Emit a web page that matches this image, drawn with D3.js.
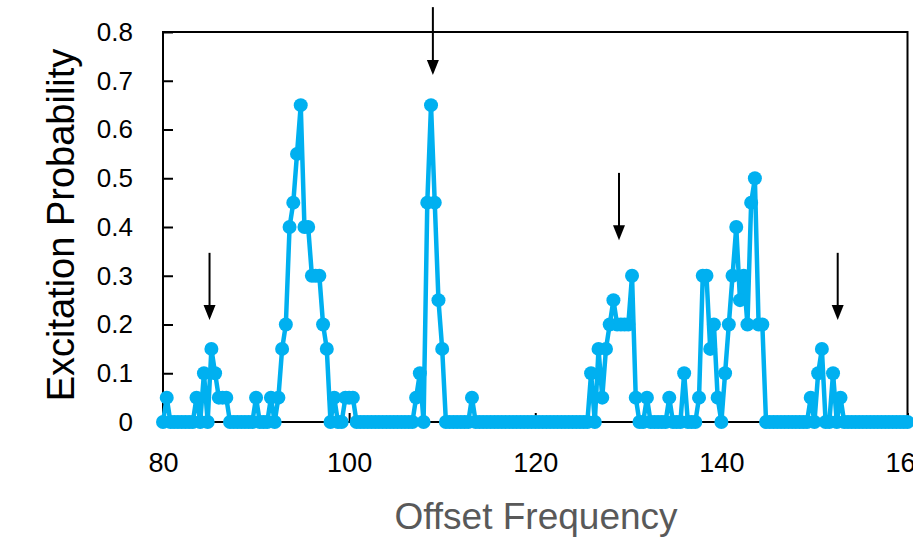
<!DOCTYPE html>
<html>
<head>
<meta charset="utf-8">
<script src="https://cdn.jsdelivr.net/npm/d3@7"></script>
<style>
  body { margin: 0; background: #fff; }
  svg { display: block; font-family: "Liberation Sans", Arial, sans-serif; }
</style>
</head>
<body>
<div id="chart"></div>
<script>
// offset frequency of each measured point
var offsets = [
    80, 80.4, 80.8, 81.2, 81.6, 82, 82.4, 82.8, 83.2, 83.6,
    84, 84.4, 84.8, 85.2, 85.6, 86, 86.4, 86.8, 87.2, 87.6,
    88, 88.4, 88.8, 89.2, 89.6, 90, 90.4, 90.8, 91.2, 91.6,
    92, 92.4, 92.8, 93.2, 93.6, 94, 94.4, 94.8, 95.2, 95.6,
    96, 96.4, 96.8, 97.2, 97.6, 98, 98.4, 98.8, 99.2, 99.6,
    100, 100.4, 100.8, 101.2, 101.6, 102, 102.4, 102.8, 103.2, 103.6,
    104, 104.4, 104.8, 105.2, 105.6, 106, 106.4, 106.8, 107.2, 107.6,
    108, 108.4, 108.8, 109.2, 109.6, 110, 110.4, 110.8, 111.2, 111.6,
    112, 112.4, 112.8, 113.2, 113.6, 114, 114.4, 114.8, 115.2, 115.6,
    116, 116.4, 116.8, 117.2, 117.6, 118, 118.4, 118.8, 119.2, 119.6,
    120, 120.4, 120.8, 121.2, 121.6, 122, 122.4, 122.8, 123.2, 123.6,
    124, 124.4, 124.8, 125.2, 125.6, 126, 126.4, 126.8, 127.2, 127.6,
    128, 128.4, 128.8, 129.2, 129.6, 130, 130.4, 130.8, 131.2, 131.6,
    132, 132.4, 132.8, 133.2, 133.6, 134, 134.4, 134.8, 135.2, 135.6,
    136, 136.4, 136.8, 137.2, 137.6, 138, 138.4, 138.8, 139.2, 139.6,
    140, 140.4, 140.8, 141.2, 141.6, 142, 142.4, 142.8, 143.2, 143.6,
    144, 144.4, 144.8, 145.2, 145.6, 146, 146.4, 146.8, 147.2, 147.6,
    148, 148.4, 148.8, 149.2, 149.6, 150, 150.4, 150.8, 151.2, 151.6,
    152, 152.4, 152.8, 153.2, 153.6, 154, 154.4, 154.8, 155.2, 155.6,
    156, 156.4, 156.8, 157.2, 157.6, 158, 158.4, 158.8, 159.2, 159.6,
    160
];

// excitation probability
var probs = [
    0, 0.05, 0, 0, 0, 0, 0, 0, 0, 0.05,
    0, 0.1, 0, 0.15, 0.1, 0.05, 0.05, 0.05, 0, 0,
    0, 0, 0, 0, 0, 0.05, 0, 0, 0, 0.05,
    0, 0.05, 0.15, 0.2, 0.4, 0.45, 0.55, 0.65, 0.4, 0.4,
    0.3, 0.3, 0.3, 0.2, 0.15, 0, 0.05, 0, 0, 0.05,
    0.05, 0.05, 0, 0, 0, 0, 0, 0, 0, 0,
    0, 0, 0, 0, 0, 0, 0, 0, 0.05, 0.1,
    0, 0.45, 0.65, 0.45, 0.25, 0.15, 0, 0, 0, 0,
    0, 0, 0, 0.05, 0, 0, 0, 0, 0, 0,
    0, 0, 0, 0, 0, 0, 0, 0, 0, 0,
    0, 0, 0, 0, 0, 0, 0, 0, 0, 0,
    0, 0, 0, 0, 0, 0.1, 0, 0.15, 0.05, 0.15,
    0.2, 0.25, 0.2, 0.2, 0.2, 0.2, 0.3, 0.05, 0, 0,
    0.05, 0, 0, 0, 0, 0, 0.05, 0, 0, 0,
    0.1, 0, 0, 0, 0.05, 0.3, 0.3, 0.15, 0.2, 0.05,
    0, 0.1, 0.2, 0.3, 0.4, 0.25, 0.3, 0.2, 0.45, 0.5,
    0.2, 0.2, 0, 0, 0, 0, 0, 0, 0, 0,
    0, 0, 0, 0, 0.05, 0, 0.1, 0.15, 0, 0,
    0.1, 0, 0.05, 0, 0, 0, 0, 0, 0, 0,
    0, 0, 0, 0, 0, 0, 0, 0, 0, 0,
    0
];

var xTicks = [80, 100, 120, 140, 160];
var yTicks = [0, 0.1, 0.2, 0.3, 0.4, 0.5, 0.6, 0.7, 0.8];

// annotation arrows (data units)
var arrowX = [85, 109, 129, 152.5];
var arrowFrom = [0.347, 0.851, 0.511, 0.347];
var arrowTo = [0.209, 0.712, 0.373, 0.209];

var blue = "#00B0F0";

var svg = d3.select("#chart").append("svg")
    .attr("width", 913)
    .attr("height", 549);

var x = d3.scaleLinear().domain([80, 160]).range([163, 907.5]);
var y = d3.scaleLinear().domain([0, 0.8]).range([422, 32]);

// y axis with inward ticks
var yAxis = svg.append("g")
    .attr("transform", "translate(" + x(80) + ",0)")
    .call(d3.axisLeft(y).tickValues(yTicks).tickSize(-10).tickPadding(30)
        .tickFormat(function (d) { return d === 0 ? "0" : d.toFixed(1); }));
yAxis.select(".domain").remove();
yAxis.selectAll("line").attr("stroke", "#000").attr("stroke-width", 2);
yAxis.selectAll("text")
    .attr("font-size", 26)
    .attr("font-family", "Liberation Sans, Arial, sans-serif")
    .attr("fill", "#000");

// x axis with inward ticks
var xAxis = svg.append("g")
    .attr("transform", "translate(0," + y(0) + ")")
    .call(d3.axisBottom(x).tickValues(xTicks).tickSize(-9).tickPadding(31)
        .tickFormat(d3.format("d")));
xAxis.select(".domain").remove();
xAxis.selectAll("line").attr("stroke", "#000").attr("stroke-width", 2);
xAxis.selectAll("text")
    .attr("font-size", 27)
    .attr("font-family", "Liberation Sans, Arial, sans-serif")
    .attr("fill", "#000");

// plot frame
svg.append("rect")
    .attr("x", x(80))
    .attr("y", y(0.8))
    .attr("width", x(160) - x(80))
    .attr("height", y(0) - y(0.8))
    .attr("fill", "none")
    .attr("stroke", "#000")
    .attr("stroke-width", 2);

// axis titles
svg.append("text")
    .attr("transform", "translate(74," + 225 + ") rotate(-90)")
    .attr("text-anchor", "middle")
    .attr("font-size", 38)
    .attr("fill", "#000")
    .text("Excitation Probability");

svg.append("text")
    .attr("x", 536)
    .attr("y", 529)
    .attr("text-anchor", "middle")
    .attr("font-size", 37)
    .attr("fill", "#595959")
    .text("Offset Frequency");

var points = offsets.map(function (d, i) { return { f: d, p: probs[i] }; });

var line = d3.line()
    .x(function (d) { return x(d.f); })
    .y(function (d) { return y(d.p); });

svg.append("path")
    .datum(points)
    .attr("d", line)
    .attr("fill", "none")
    .attr("stroke", blue)
    .attr("stroke-width", 4.5)
    .attr("stroke-linejoin", "round");

svg.selectAll(".dot")
    .data(points)
    .enter().append("circle")
    .attr("class", "dot")
    .attr("cx", function (d) { return x(d.f); })
    .attr("cy", function (d) { return y(d.p); })
    .attr("r", 7)
    .attr("fill", blue);

// arrows
arrowX.forEach(function (ax, i) {
    var px = x(ax), y0 = y(arrowFrom[i]), y1 = y(arrowTo[i]);
    svg.append("line")
        .attr("x1", px).attr("x2", px)
        .attr("y1", y0).attr("y2", y1 - 12)
        .attr("stroke", "#000")
        .attr("stroke-width", 2);
    svg.append("path")
        .attr("d", "M" + (px - 6) + "," + (y1 - 15) + "L" + (px + 6) + "," + (y1 - 15) + "L" + px + "," + y1 + "Z")
        .attr("fill", "#000");
});
</script>
</body>
</html>
